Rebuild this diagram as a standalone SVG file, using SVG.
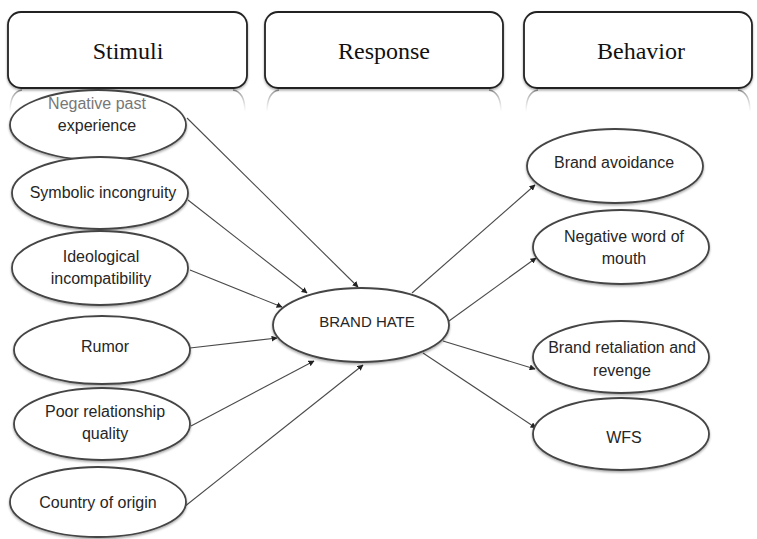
<svg xmlns="http://www.w3.org/2000/svg" width="757" height="539" viewBox="0 0 757 539">
<style>
.hdr{fill:#fff;stroke:#222;stroke-width:1.8}
.ht{font-family:"Liberation Serif","Times New Roman",serif;font-size:24px;fill:#111;text-anchor:middle}
.el{fill:#fff;stroke:#444;stroke-width:1.8}
.t{font-family:"Liberation Sans",Arial,sans-serif;font-size:16px;fill:#262626;text-anchor:middle}
.refl{fill:none;stroke:url(#rg);stroke-width:1.5}
.c{stroke:#4a4a4a;stroke-width:1.1;fill:none;marker-end:url(#ah)}
</style>
<defs>
<linearGradient id="rg" x1="0" y1="0" x2="0" y2="1">
<stop offset="0" stop-color="#888" stop-opacity="0.9"/>
<stop offset="1" stop-color="#bbb" stop-opacity="0"/>
</linearGradient>
<marker id="ah" viewBox="0 0 10 10" refX="9" refY="5" markerWidth="6" markerHeight="6" markerUnits="userSpaceOnUse" orient="auto">
<path d="M0,0 L10,5 L0,10 z" fill="#222"/>
</marker>
<filter id="sh" x="-10%" y="-10%" width="120%" height="130%">
<feDropShadow dx="0" dy="1.5" stdDeviation="1" flood-color="#000" flood-opacity="0.35"/>
</filter>
</defs>

<g id="headers">
<g id="h-stimuli">
<path class="refl" d="M10,112 Q10,92 22,90 M245,112 Q245,92 233,90"/>
<rect class="hdr" x="8" y="12" width="239" height="76" rx="13" filter="url(#sh)"/>
<text class="ht" x="128" y="59">Stimuli</text>
</g>
<g id="h-response">
<path class="refl" d="M267,112 Q267,92 279,90 M501,112 Q501,92 489,90"/>
<rect class="hdr" x="265" y="12" width="238" height="76" rx="13" filter="url(#sh)"/>
<text class="ht" x="384" y="59">Response</text>
</g>
<g id="h-behavior">
<path class="refl" d="M526,112 Q526,92 538,90 M750,112 Q750,92 738,90"/>
<rect class="hdr" x="524" y="12" width="228" height="76" rx="13" filter="url(#sh)"/>
<text class="ht" x="641" y="59">Behavior</text>
</g>
</g>

<g id="connectors">
<line class="c" x1="187" y1="118" x2="358" y2="287"/>
<line class="c" x1="188" y1="200" x2="307" y2="293"/>
<line class="c" x1="190" y1="270" x2="282" y2="307"/>
<line class="c" x1="190" y1="348" x2="277" y2="338"/>
<line class="c" x1="191" y1="426" x2="314" y2="361"/>
<line class="c" x1="184" y1="507" x2="363" y2="365"/>
<line class="c" x1="412" y1="293" x2="535" y2="185"/>
<line class="c" x1="449" y1="321" x2="536" y2="258"/>
<line class="c" x1="443" y1="341" x2="535" y2="369"/>
<line class="c" x1="423" y1="353" x2="536" y2="428"/>
</g>

<g id="n-negative-past">
<ellipse class="el" cx="98" cy="125" rx="88" ry="35" filter="url(#sh)"/>
<text class="t" x="97" y="109" style="fill:#777">Negative past</text>
<text class="t" x="97" y="131">experience</text>
</g>
<g id="n-symbolic">
<ellipse class="el" cx="100" cy="193" rx="88" ry="36" filter="url(#sh)"/>
<text class="t" x="103" y="198">Symbolic incongruity</text>
</g>
<g id="n-ideological">
<ellipse class="el" cx="100" cy="268" rx="88" ry="37" filter="url(#sh)"/>
<text class="t" x="101" y="262">Ideological</text>
<text class="t" x="101" y="284">incompatibility</text>
</g>
<g id="n-rumor">
<ellipse class="el" cx="102" cy="350" rx="88" ry="34" filter="url(#sh)"/>
<text class="t" x="105" y="352">Rumor</text>
</g>
<g id="n-poor">
<ellipse class="el" cx="102" cy="424" rx="88" ry="36" filter="url(#sh)"/>
<text class="t" x="105" y="417">Poor relationship</text>
<text class="t" x="105" y="439">quality</text>
</g>
<g id="n-country">
<ellipse class="el" cx="98" cy="502" rx="88" ry="35" filter="url(#sh)"/>
<text class="t" x="98" y="508">Country of origin</text>
</g>

<g id="n-brand-hate">
<ellipse class="el" cx="361" cy="325" rx="88" ry="37" filter="url(#sh)"/>
<text class="t" x="367" y="327" style="font-size:15px">BRAND HATE</text>
</g>

<g id="n-avoidance">
<ellipse class="el" cx="615" cy="166" rx="88" ry="37" filter="url(#sh)"/>
<text class="t" x="614" y="168">Brand avoidance</text>
</g>
<g id="n-nwom">
<ellipse class="el" cx="621" cy="247" rx="88" ry="37" filter="url(#sh)"/>
<text class="t" x="624" y="242">Negative word of</text>
<text class="t" x="624" y="264">mouth</text>
</g>
<g id="n-retaliation">
<ellipse class="el" cx="621" cy="357" rx="88" ry="36" filter="url(#sh)"/>
<text class="t" x="622" y="353">Brand retaliation and</text>
<text class="t" x="622" y="376">revenge</text>
</g>
<g id="n-wfs">
<ellipse class="el" cx="621" cy="434" rx="88" ry="36" filter="url(#sh)"/>
<text class="t" x="624" y="443">WFS</text>
</g>
</svg>
